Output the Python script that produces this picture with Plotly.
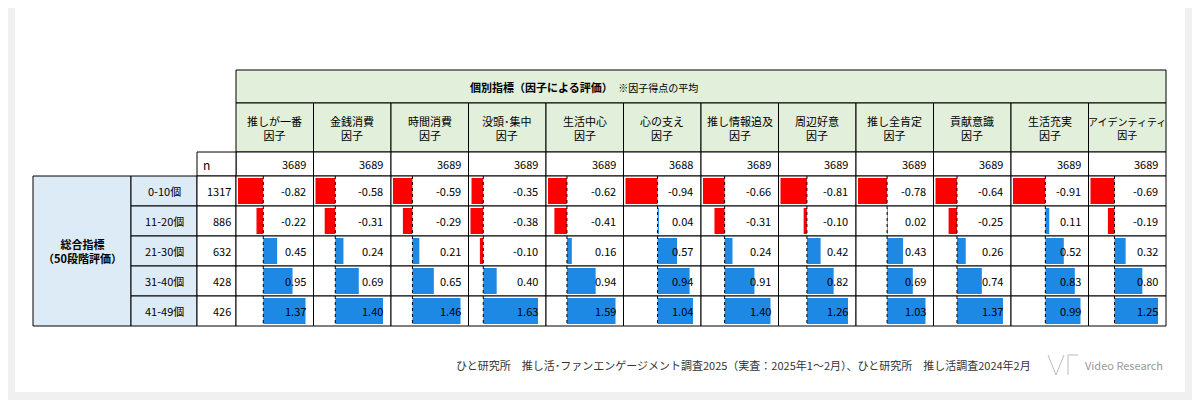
import plotly.graph_objects as go

factors = ["推しが一番<br>因子", "金銭消費<br>因子", "時間消費<br>因子", "没頭･集中<br>因子", "生活中心<br>因子",
           "心の支え<br>因子", "推し情報追及<br>因子", "周辺好意<br>因子", "推し全肯定<br>因子", "貢献意識<br>因子",
           "生活充実<br>因子", "アイデンティティ<br>因子"]
factor_n = [3689, 3689, 3689, 3689, 3689, 3688, 3689, 3689, 3689, 3689, 3689, 3689]
row_labels = ["0-10個", "11-20個", "21-30個", "31-40個", "41-49個"]
row_n = [1317, 886, 632, 428, 426]
values = [
    [-0.82, -0.58, -0.59, -0.35, -0.62, -0.94, -0.66, -0.81, -0.78, -0.64, -0.91, -0.69],
    [-0.22, -0.31, -0.29, -0.38, -0.41, 0.04, -0.31, -0.10, 0.02, -0.25, 0.11, -0.19],
    [0.45, 0.24, 0.21, -0.10, 0.16, 0.57, 0.24, 0.42, 0.43, 0.26, 0.52, 0.32],
    [0.95, 0.69, 0.65, 0.40, 0.94, 0.94, 0.91, 0.82, 0.69, 0.74, 0.83, 0.80],
    [1.37, 1.40, 1.46, 1.63, 1.59, 1.04, 1.40, 1.26, 1.03, 1.37, 0.99, 1.25],
]
title_text = "<b>個別指標（因子による評価）</b>　<span style='font-size:10px'>※因子得点の平均</span>"
group_label = "<b>総合指標<br>（50段階評価）</b>"
footer = "ひと研究所　推し活･ファンエンゲージメント調査2025（実査：2025年1～2月）、ひと研究所　推し活調査2024年2月"

FONT = "Noto Sans CJK JP"
shapes, ann = [], []

def rect(x0, y0, x1, y1, fill, line="black", w=1, dash=None):
    shapes.append(dict(type="rect", x0=x0, y0=y0, x1=x1, y1=y1, fillcolor=fill,
                       line=dict(color=line, width=w, dash=dash), layer="below"))

def text(x, y, t, size=11, xanchor="center", color="black"):
    ann.append(dict(x=x, y=y, text=t, showarrow=False, xanchor=xanchor, yanchor="middle",
                    font=dict(size=size, color=color, family=FONT)))

rect(-10, -10, 1210, 410, "#f0f0f0", line="#f0f0f0", w=0)
rect(15, 8, 1185, 392, "white", line="white", w=0)

X0 = 236; CW = (1166 - 236) / 12
rows_y = [176, 206, 236, 266, 296, 326]
GREEN = "#e2efda"; BLUE = "#ddebf7"

rect(X0, 70, 1166, 103, GREEN)
text(584, 87, title_text, size=11)
for j, f in enumerate(factors):
    x0 = X0 + j * CW
    rect(x0, 103, x0 + CW, 152, GREEN)
    text(x0 + CW / 2, 128, f, size=10 if len(f) > 12 else 11)
    rect(x0, 152, x0 + CW, 176, "white")
    text(x0 + CW - 6, 164, str(factor_n[j]), size=11, xanchor="right")
rect(197, 152, 236, 176, "white")
text(201, 164, "n", size=12, xanchor="left")

rect(33, 176, 131, 326, BLUE)
text(82, 251, group_label, size=11)
for i, r in enumerate(row_labels):
    y0, y1 = rows_y[i], rows_y[i + 1]
    rect(131, y0, 197, y1, BLUE)
    text(164, (y0 + y1) / 2, r, size=11)
    rect(197, y0, 236, y1, "white")
    text(233, (y0 + y1) / 2, str(row_n[i]), size=11, xanchor="right")

for j in range(12):
    col = [values[i][j] for i in range(5)]
    mn = min(0, min(col)); mx = max(0, max(col))
    x0 = X0 + j * CW
    inner0 = x0 + 2; inner1 = x0 + CW - 8
    scale = (inner1 - inner0) / (mx - mn)
    axis = inner0 + (-mn) * scale
    for i in range(5):
        y0, y1 = rows_y[i], rows_y[i + 1]
        rect(x0, y0, x0 + CW, y1, "white")
        v = values[i][j]
        end = axis + v * scale
        shapes.append(dict(type="rect", x0=min(axis, end), x1=max(axis, end), y0=y0 + 2, y1=y1 - 2,
                           fillcolor="#ff0000" if v < 0 else "#1e88e5", line=dict(width=0)))
        shapes.append(dict(type="line", x0=axis, x1=axis, y0=y0, y1=y1,
                           line=dict(color="black", width=1, dash="dot")))
        text(x0 + CW - 6, (y0 + y1) / 2, f"{v:.2f}", size=11, xanchor="right")

text(1033, 365, footer, size=11, xanchor="right", color="#333")
text(1165, 365, "Video Research", size=11, xanchor="right", color="#999")
shapes.append(dict(type="path", path="M1048,355 L1056,375 L1064,355 M1068,355 L1068,375 M1068,355 L1078,355",
                   line=dict(color="#bbb", width=1)))

fig = go.Figure()
fig.update_layout(width=1200, height=400, margin=dict(l=0, r=0, t=0, b=0),
                  paper_bgcolor="#f0f0f0", plot_bgcolor="rgba(0,0,0,0)",
                  xaxis=dict(range=[8, 1208], visible=False, fixedrange=True),
                  yaxis=dict(range=[408, 8], visible=False, fixedrange=True),
                  shapes=shapes, annotations=ann, showlegend=False)
fig.write_html("out.html")
